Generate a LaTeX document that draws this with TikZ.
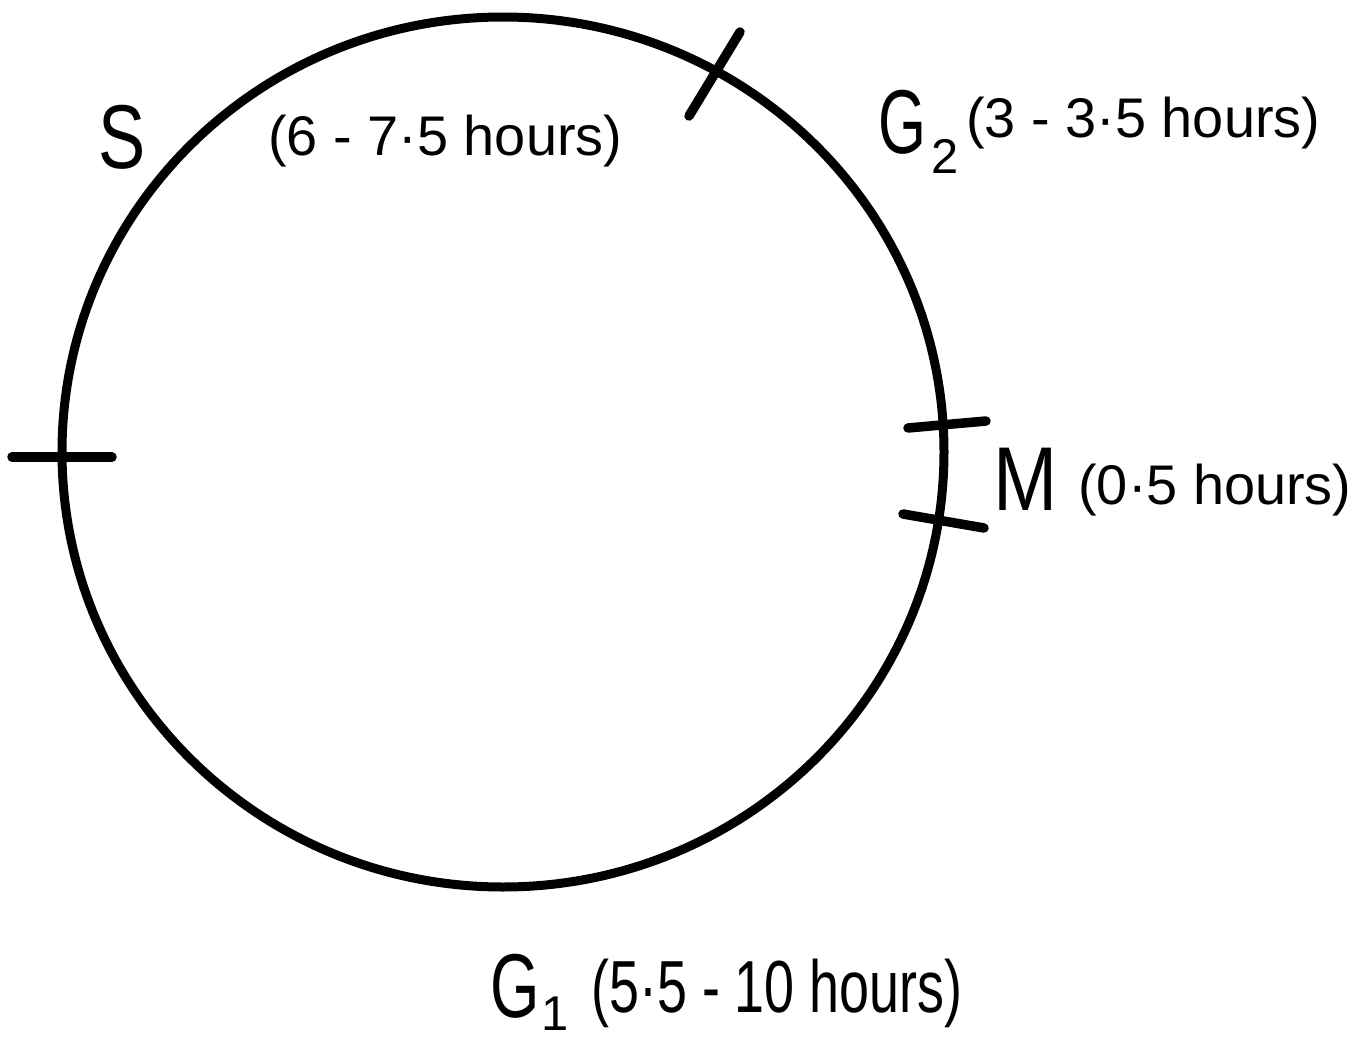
\documentclass[tikz,border=0pt]{standalone}
\usepackage{fontspec}
\setmainfont{Liberation Sans}
\begin{document}
\begin{tikzpicture}[x=0.02cm,y=-0.02cm,
  ring/.style={line width=0.18cm},
  tick/.style={line width=0.19cm,line cap=round},
  big/.style={inner sep=0pt,anchor=base west,font=\fontsize{51.6}{60}\selectfont},
  sub/.style={inner sep=0pt,anchor=base west,font=\fontsize{27.8}{32}\selectfont},
  par/.style={inner sep=0pt,anchor=base west,font=\fontsize{31.8}{38}\selectfont}]
\useasboundingbox (0,0) rectangle (1356,1041);
\fill[white] (0,0) rectangle (1356,1041);
% cell cycle ring
\draw[ring] (503,452) ellipse [x radius=441, y radius=435];
% phase boundaries
\coordinate (l1) at (12,457);   \coordinate (l2) at (112,457);
\coordinate (t1) at (740,32);   \coordinate (t2) at (689,116);
\coordinate (r1) at (908,428);  \coordinate (r2) at (986,421);
\coordinate (q1) at (903,514);  \coordinate (q2) at (984,528);
\draw[tick] (l1) -- (l2);
\draw[tick] (t1) -- (t2);
\draw[tick] (r1) -- (r2);
\draw[tick] (q1) -- (q2);
% labels
\node[big] (S) at (98,168) {\scalebox{0.78}[1]{S}};
\node[par] (Sh) at (268,155) {(6 - 7·5 hours)};
\node[big] (G2) at (878,153) {\scalebox{0.68}[1]{G}};
\node[sub] (G2s) at (931,173) {2};
\node[par] (G2h) at (966,137) {(3 - 3·5 hours)};
\node[big] (M) at (993,510) {\scalebox{0.85}[1]{M}};
\node[par] (Mh) at (1078,504) {(0·5 hours)};
\node[big] (G1) at (490,1017) {\scalebox{0.7}[1]{G}};
\node[sub] (G1s) at (541,1030) {1};
\node[par] (G1h) at (591,1012) {\scalebox{0.73}[1]{\fontsize{42}{48}\selectfont (5·5 - 10 hours)}};
\end{tikzpicture}
\end{document}
